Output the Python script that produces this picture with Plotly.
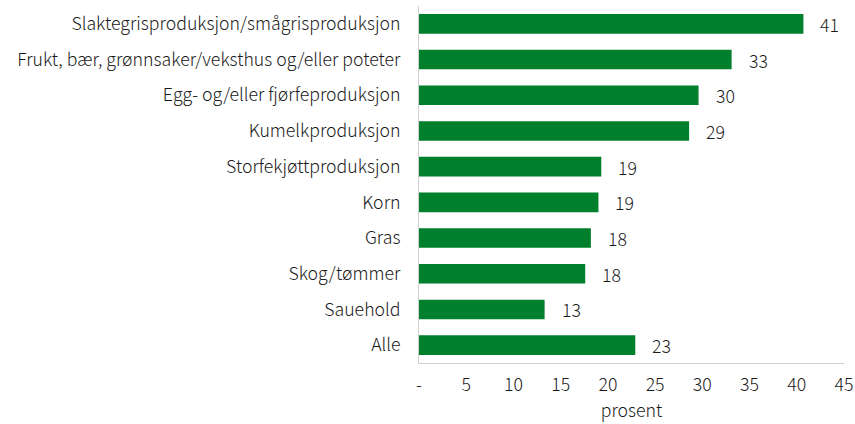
import plotly.graph_objects as go

categories = [
    "Slaktegrisproduksjon/smågrisproduksjon",
    "Frukt, bær, grønnsaker/veksthus og/eller poteter",
    "Egg- og/eller fjørfeproduksjon",
    "Kumelkproduksjon",
    "Storfekjøttproduksjon",
    "Korn",
    "Gras",
    "Skog/tømmer",
    "Sauehold",
    "Alle",
]
values = [40.7, 33.1, 29.6, 28.6, 19.3, 19.0, 18.2, 17.6, 13.3, 22.9]
tick_vals = [0, 5, 10, 15, 20, 25, 30, 35, 40, 45]
tick_text = ["-", "5", "10", "15", "20", "25", "30", "35", "40", "45"]

FONT = "Noto Sans CJK JP"
GREEN = "#007F2D"
SIZE = 17.7
TXT = "#1a1a1a"
WEIGHT = 300

fig = go.Figure(
    go.Bar(
        x=values,
        y=categories,
        orientation="h",
        marker=dict(color=GREEN, line=dict(width=0)),
        width=0.55,
        hoverinfo="skip",
    )
)

for c, v in zip(categories, values):
    fig.add_annotation(
        x=v, y=c, text=f"{round(v)}", showarrow=False,
        xanchor="left", xshift=15,
        font=dict(family=FONT, size=SIZE, color=TXT, weight=WEIGHT),
    )

fig.update_layout(
    width=855, height=424,
    margin=dict(l=419, r=11, t=6, b=61),
    paper_bgcolor="white", plot_bgcolor="white",
    showlegend=False,
    font=dict(family=FONT, size=SIZE, color=TXT, weight=WEIGHT),
    xaxis=dict(
        range=[0, 45], tickvals=tick_vals, ticktext=tick_text,
        showgrid=False, zeroline=False, showline=True, linecolor="#d0d0d0",
        ticks="", ticklabelstandoff=6, automargin=False,
        tickfont=dict(family=FONT, size=SIZE, color=TXT, weight=WEIGHT),
        title=dict(text="prosent", standoff=6,
                   font=dict(family=FONT, size=SIZE, color=TXT, weight=WEIGHT)),
    ),
    yaxis=dict(
        autorange="reversed", showgrid=False, zeroline=False, automargin=False,
        showline=True, linecolor="#d0d0d0", ticks="", ticklabelstandoff=14,
        tickfont=dict(family=FONT, size=SIZE, color=TXT, weight=WEIGHT),
    ),
)

fig.write_html(
    "out.html",
    config={"displayModeBar": False},
    post_script="document.body.style.margin='0';",
)
